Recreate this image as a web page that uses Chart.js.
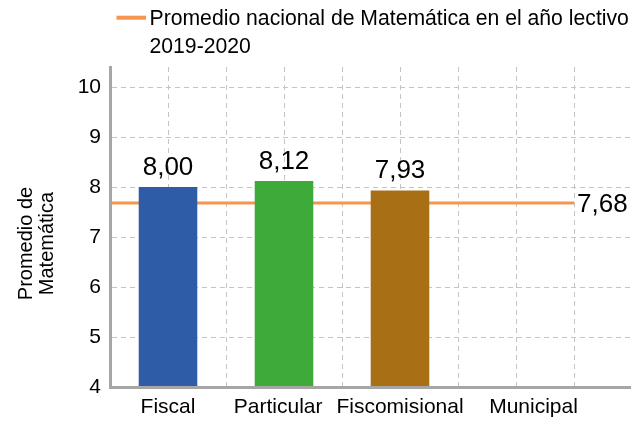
<!DOCTYPE html>
<html>
<head>
<meta charset="utf-8">
<script src="https://cdn.jsdelivr.net/npm/chart.js@4.4.1/dist/chart.umd.min.js"></script>
<style>
html,body{margin:0;padding:0;background:#fff;overflow:hidden}
#wrap{width:631px;height:421px;overflow:hidden;position:relative;background:#fff}
canvas{display:block}
</style>
</head>
<body>
<div id="wrap"><canvas id="c" width="700" height="421"></canvas></div>
<script>
// ---- data ----
const categories = ['Fiscal', 'Particular', 'Fiscomisional', 'Municipal'];
const scores = [8.00, 8.12, 7.93, null];
const barColors = ['#2E5CA6', '#3DAA3A', '#A86F15', '#888888'];
const nationalAverage = 7.68;
const yTicks = [4, 5, 6, 7, 8, 9, 10];
const legendLines = ['Promedio nacional de Matemática en el año lectivo', '2019-2020'];
const yTitleLines = ['Promedio de', 'Matemática'];

// ---- styling ----
const FONT = '"Liberation Sans", Arial, Helvetica, sans-serif';
const ORANGE = '#F5954F';
const GRID = '#C4C4C4';
const AXIS = '#A6A6A6';
// label nudges (in spaces) to mimic the original label placement
const labelNudge = [0, -2, 0, 6];

const fmt = v => v.toFixed(2).replace('.', ',');
const nudge = (s, n) => n > 0 ? ' '.repeat(n) + s : n < 0 ? s + ' '.repeat(-n) : s;

Chart.defaults.font.family = FONT;
Chart.defaults.color = '#000';

const decor = {
  id: 'decor',
  afterDatasetsDraw(chart) {
    const ctx = chart.ctx;
    ctx.save();
    ctx.fillStyle = '#000';
    ctx.font = '26px ' + FONT;
    ctx.textBaseline = 'alphabetic';
    ctx.textAlign = 'center';
    const bm = chart.getDatasetMeta(0);
    bm.data.forEach((el, i) => {
      const v = scores[i];
      if (v === null || v === undefined) return;
      ctx.fillText(fmt(v), el.x, el.y - 12.5);
    });
    const lm = chart.getDatasetMeta(1);
    const last = lm.data[lm.data.length - 1];
    ctx.textAlign = 'left';
    ctx.fillText(fmt(nationalAverage), last.x + 3, last.y + 8.5);
    ctx.restore();
  },
  afterDraw(chart) {
    const ctx = chart.ctx;
    ctx.save();
    // legend
    ctx.strokeStyle = ORANGE;
    ctx.lineWidth = 4;
    ctx.beginPath();
    ctx.moveTo(116.5, 17.7);
    ctx.lineTo(146, 17.7);
    ctx.stroke();
    ctx.fillStyle = '#000';
    ctx.font = '21.2px ' + FONT;
    ctx.textAlign = 'left';
    ctx.textBaseline = 'alphabetic';
    ctx.fillText(legendLines[0], 149.5, 25.3);
    ctx.fillText(legendLines[1], 149.5, 52.7);
    // y-axis title
    ctx.font = '20px ' + FONT;
    ctx.textAlign = 'center';
    ctx.textBaseline = 'middle';
    ctx.translate(26, 243.5);
    ctx.rotate(-Math.PI / 2);
    ctx.fillText(yTitleLines[0], 0, 0);
    ctx.fillText(yTitleLines[1], 0, 21);
    ctx.restore();
  }
};

new Chart(document.getElementById('c'), {
  type: 'bar',
  data: {
    labels: [...categories, ''],
    datasets: [
      {
        type: 'bar',
        data: [...scores, null],
        backgroundColor: barColors,
        borderWidth: 0,
        grouped: false,
        categoryPercentage: 1,
        barPercentage: 0.505,
        xAxisID: 'x',
        yAxisID: 'y',
        order: 0
      },
      {
        type: 'line',
        data: [{x: 0, y: nationalAverage}, {x: categories.length, y: nationalAverage}],
        borderColor: ORANGE,
        borderWidth: 3,
        pointRadius: 0,
        fill: false,
        xAxisID: 'x2',
        yAxisID: 'y',
        order: 1
      }
    ]
  },
  options: {
    responsive: false,
    animation: false,
    events: [],
    layout: {padding: {left: 0, right: 10, top: 67, bottom: 0}},
    plugins: {legend: {display: false}, tooltip: {enabled: false}},
    scales: {
      x: {
        type: 'category',
        position: 'bottom',
        offset: true,
        grid: {display: false, drawTicks: false},
        border: {display: true, color: AXIS, width: 3, z: 1},
        ticks: {
          color: '#000', font: {size: 21}, padding: 8, maxRotation: 0, autoSkip: false,
          callback(value, index) { return nudge(this.getLabelForValue(value), labelNudge[index] || 0); }
        },
        afterFit(s) { s.height = 34; }
      },
      x2: {
        type: 'linear',
        position: 'top',
        offset: false,
        min: 0,
        max: categories.length + 1,
        ticks: {display: false, stepSize: 0.5, maxTicksLimit: 50},
        grid: {color: GRID, lineWidth: 1, drawTicks: false, offset: false},
        border: {display: false, dash: [5, 4]}
      },
      y: {
        type: 'linear',
        position: 'left',
        min: 4,
        max: 10.4,
        beginAtZero: false,
        afterBuildTicks(axis) { axis.ticks = yTicks.map(v => ({value: v})); },
        ticks: {color: '#000', font: {size: 21}, padding: 9},
        grid: {color: GRID, lineWidth: 1, drawTicks: false},
        border: {display: true, color: AXIS, width: 3, dash: [5, 4], z: 1},
        afterFit(s) { s.width = 110; }
      }
    }
  },
  plugins: [decor]
});
</script>
</body>
</html>
